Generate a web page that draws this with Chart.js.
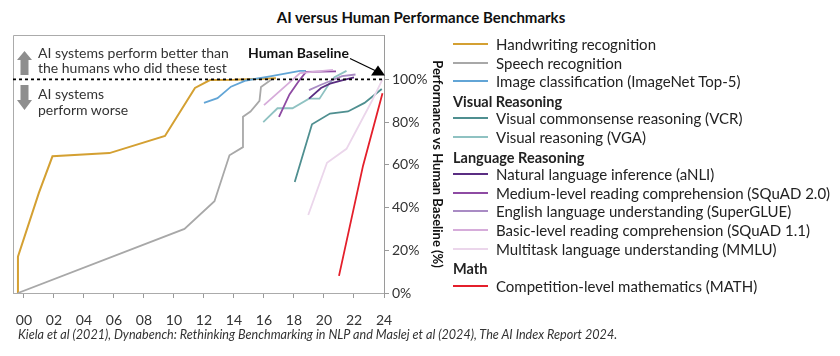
<!DOCTYPE html>
<html>
<head>
<meta charset="utf-8">
<script src="https://cdn.jsdelivr.net/npm/chart.js@4.4.1/dist/chart.umd.min.js"></script>
<style>
  html, body { margin:0; padding:0; background:#fff; }
  body { width:840px; height:356px; position:relative; overflow:hidden; font-family: Lato, "Noto Sans", sans-serif; color:#222; }
  #title { position:absolute; left:0; top:8px; width:842px; text-align:center; font-weight:bold; font-size:15px; color:#111; }
  #wrap { position:absolute; left:0; top:0; width:450px; height:340px; }
  .note { position:absolute; font-size:14px; color:#333; line-height:15px; white-space:nowrap; }
  #hb { position:absolute; left:248px; top:44px; font-weight:bold; font-size:14px; color:#111; white-space:nowrap; }
  #legend { position:absolute; left:0; top:0; width:840px; height:356px; font-size:15px; color:#222; }
  .lt { position:absolute; white-space:nowrap; height:18px; line-height:18px; }
  .sw { position:absolute; width:35px; height:2px; }
  .hdr { font-weight:bold; font-size:14.5px; }
  #source { position:absolute; left:18px; top:327px; font-style:italic; font-size:12.6px; color:#333; white-space:nowrap; }
</style>
</head>
<body>
<div id="title">AI versus Human Performance Benchmarks</div>
<div id="wrap"><canvas id="c" width="450" height="340"></canvas></div>
<div class="note" style="left:38px; top:45px;">AI systems perform better than<br>the humans who did these test</div>
<div class="note" style="left:38px; top:86px; line-height:16px;">AI systems<br>perform worse</div>
<div id="hb">Human Baseline</div>
<div id="legend"></div>
<div id="source">Kiela et al (2021), Dynabench: Rethinking Benchmarking in NLP and Maslej et al (2024), The AI Index Report 2024.</div>
<script>
// ---- Data (year offset from 2000, % of human baseline) ----
const xTickValues = [0, 2, 4, 6, 8, 10, 12, 14, 16, 18, 20, 22, 24];
const xTickLabels = ['00','02','04','06','08','10','12','14','16','18','20','22','24'];
const yTickValues = [0, 20, 40, 60, 80, 100];
const yTickLabels = ['0%','20%','40%','60%','80%','100%'];
const humanBaseline = 100;

const handwriting = [[-0.4,0],[-0.4,17],[1,47],[1.9,64],[5.7,65.5],[9.4,73.5],[11.4,96],[12.4,99.7],[14,99.8],[16.8,100.5]];
const speech      = [[-0.4,0],[10.7,30],[12.7,43],[13.7,64.5],[14.6,68.3],[14.6,82.5],[15.1,85],[15.7,90],[15.8,96.5],[16.5,100]];
const imagenet    = [[12,89],[12.9,91.2],[13.8,96.6],[14.8,99.5],[16.4,101.4],[18.4,104],[18.8,104]];
const vcr         = [[18.05,52],[19.2,79],[20.4,84],[21.6,85],[22.7,89],[23.85,95.5]];
const vga         = [[15.95,80],[16.9,86.5],[17.9,86.5],[19,91],[19.7,91],[20.3,97.5],[20.7,101],[21.5,104]];
const anli        = [[19,91],[19.8,96],[20.4,98],[21.2,99.5],[22,101]];
const squad2      = [[17,82.5],[17.7,93],[18.3,99],[18.8,103.5],[20.8,103.8]];
const superglue   = [[19,95],[19.8,97.5],[20.5,99.5],[21.2,101.5],[22.1,102.3]];
const squad1      = [[16,88],[18.4,103],[20.6,104.5]];
const mmlu        = [[18.95,36.5],[20.2,61],[21.5,67.5],[23.2,90],[23.9,100]];
const mathComp    = [[21,8],[22.6,59.5],[23.9,93.5]];

const seriesNames = [
  'Handwriting recognition','Speech recognition','Image classification (ImageNet Top-5)',
  'Visual commonsense reasoning (VCR)','Visual reasoning (VGA)',
  'Natural language inference (aNLI)','Medium-level reading comprehension (SQuAD 2.0)',
  'English language understanding (SuperGLUE)','Basic-level reading comprehension (SQuAD 1.1)',
  'Multitask language understanding (MMLU)','Competition-level mathematics (MATH)'
];
const seriesData = [handwriting, speech, imagenet, vcr, vga, anli, squad2, superglue, squad1, mmlu, mathComp];
const seriesColors = ['#D4A032','#A8A8A8','#62A5D6','#4F8F90','#8FC2C2','#5A2D82','#8E4BA3','#A98BC4','#D6ACDA','#EBD6EB','#E41F2B'];
const seriesWidths = [2, 1.8, 1.8, 1.8, 1.8, 1.8, 1.8, 1.8, 1.8, 1.8, 1.8];
const groups = [
  {header:null, items:[0,1,2]},
  {header:'Visual Reasoning', items:[3,4]},
  {header:'Language Reasoning', items:[5,6,7,8,9]},
  {header:'Math', items:[10]}
];

// ---- Legend (HTML, absolutely placed rows) ----
const lg = document.getElementById('legend');
const LEG = {left:453, firstCenter:44, step:18.6, swatchW:35, gap:8};
let rowIdx = 0;
function addText(cls, txt, left, center) {
  const d = document.createElement('div'); d.className = 'lt ' + cls; d.textContent = txt;
  d.style.left = left + 'px'; d.style.top = Math.round(center - 9) + 'px'; lg.appendChild(d);
}
groups.forEach(g => {
  if (g.header) { addText('hdr', g.header, LEG.left, LEG.firstCenter + rowIdx*LEG.step + 2); rowIdx++; }
  g.items.forEach(i => {
    const c = LEG.firstCenter + rowIdx*LEG.step;
    const s = document.createElement('div'); s.className = 'sw';
    s.style.left = LEG.left + 'px'; s.style.top = Math.round(c - 1) + 'px'; s.style.background = seriesColors[i];
    lg.appendChild(s);
    addText('', seriesNames[i], LEG.left + LEG.swatchW + LEG.gap, c);
    rowIdx++;
  });
});

const CANVAS_W = 450, CANVAS_H = 340;
const AREA = {left:13, top:35, right:384, bottom:293};

const decor = {
  id:'decor',
  beforeDatasetsDraw(chart) {
    const {ctx, chartArea:a} = chart;
    ctx.save();
    ctx.strokeStyle = '#ABABAB'; ctx.lineWidth = 1;
    ctx.beginPath();
    ctx.moveTo(a.left+0.5, a.bottom); ctx.lineTo(a.left+0.5, a.top+0.5); ctx.lineTo(a.right, a.top+0.5);
    ctx.stroke();
    // grey block arrows
    ctx.fillStyle = '#8E8E8E';
    const cx = a.left + 11.5;
    ctx.beginPath();
    ctx.moveTo(cx, a.top+16); ctx.lineTo(cx+7.5, a.top+25); ctx.lineTo(cx+4, a.top+25);
    ctx.lineTo(cx+4, a.top+40); ctx.lineTo(cx-4, a.top+40); ctx.lineTo(cx-4, a.top+25); ctx.lineTo(cx-7.5, a.top+25);
    ctx.closePath(); ctx.fill();
    ctx.beginPath();
    ctx.moveTo(cx-4, a.top+50); ctx.lineTo(cx+4, a.top+50); ctx.lineTo(cx+4, a.top+65); ctx.lineTo(cx+7.5, a.top+65);
    ctx.lineTo(cx, a.top+75); ctx.lineTo(cx-7.5, a.top+65); ctx.lineTo(cx-4, a.top+65);
    ctx.closePath(); ctx.fill();
    ctx.restore();
  },
  afterDatasetsDraw(chart) {
    const {ctx, chartArea:a, scales} = chart;
    const y = scales.y.getPixelForValue(humanBaseline);
    ctx.save();
    ctx.strokeStyle = '#000'; ctx.lineWidth = 1.6; ctx.setLineDash([3,3]);
    ctx.beginPath(); ctx.moveTo(a.left, y); ctx.lineTo(a.right, y); ctx.stroke();
    ctx.setLineDash([]);
    ctx.lineWidth = 1.2;
    ctx.beginPath(); ctx.moveTo(a.right-34, y-21); ctx.lineTo(a.right-9, y-9); ctx.stroke();
    ctx.fillStyle = '#000';
    ctx.beginPath(); ctx.moveTo(a.right-6, y-14); ctx.lineTo(a.right+1, y-4); ctx.lineTo(a.right-13, y-4); ctx.closePath(); ctx.fill();
    ctx.restore();
  }
};

new Chart(document.getElementById('c'), {
  type:'line',
  data:{
    datasets: seriesData.map((d,i) => ({
      label: seriesNames[i],
      data: d.map(p => ({x:p[0], y:p[1]})),
      borderColor: seriesColors[i],
      backgroundColor: seriesColors[i],
      borderWidth: seriesWidths[i],
      pointRadius: 0,
      tension: 0,
      fill: false
    })).reverse()
  },
  options:{
    responsive:false, animation:false, devicePixelRatio:1,
    layout:{padding:{left:AREA.left, top:AREA.top, right:0, bottom:0}},
    plugins:{legend:{display:false}, tooltip:{enabled:false}, title:{display:false}},
    scales:{
      x:{
        type:'linear', min:-0.73, max:24,
        afterBuildTicks: s => { s.ticks = xTickValues.map(v => ({value:v})); },
        afterFit: s => { s.height = CANVAS_H - AREA.bottom; },
        grid:{display:true, drawOnChartArea:false, tickLength:5, color:'#9A9A9A'},
        border:{display:true, color:'#ABABAB'},
        ticks:{ padding:14, color:'#333', font:{family:'Lato', size:14}, maxRotation:0,
          callback: v => { const k = xTickValues.indexOf(v); return k>=0 ? xTickLabels[k] : ''; } }
      },
      y:{
        type:'linear', position:'right', min:0, max:120.8,
        afterBuildTicks: s => { s.ticks = yTickValues.map(v => ({value:v})); },
        afterFit: s => { s.width = CANVAS_W - AREA.right; },
        grid:{display:true, drawOnChartArea:false, tickLength:5, color:'#9A9A9A'},
        border:{display:true, color:'#9A9A9A'},
        ticks:{ padding:3, color:'#333', font:{family:'Lato', size:14},
          callback: v => { const k = yTickValues.indexOf(v); return k>=0 ? yTickLabels[k] : ''; } },
        title:{display:true, text:'Performance vs Human Baseline (%)', color:'#111', font:{family:'Lato', size:13, weight:'bold'}, padding:{top:5,bottom:0}}
      }
    }
  },
  plugins:[decor]
});
</script>
</body>
</html>
